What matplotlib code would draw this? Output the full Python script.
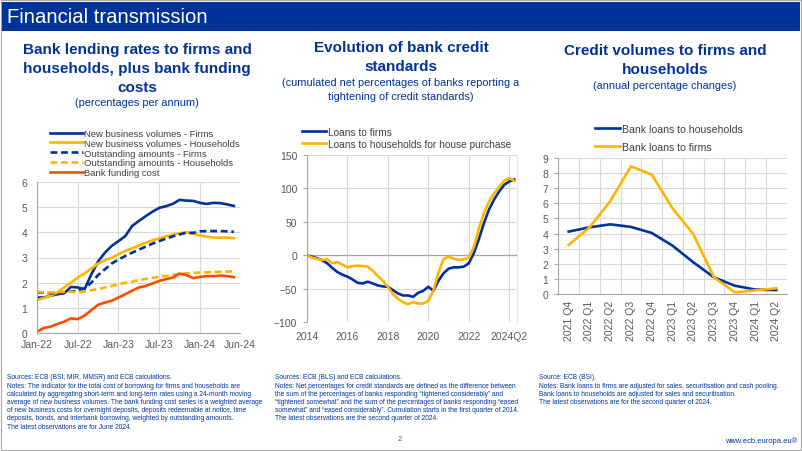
import matplotlib
matplotlib.use("Agg")
import matplotlib.pyplot as plt
from matplotlib.patches import Rectangle
import numpy as np

plt.rcParams['font.family'] = ['Liberation Sans', 'DejaVu Sans']

BLUE = '#003299'
YELLOW = '#FFB400'
ORANGE = '#FF4B00'
GRID = '#D9D9D9'
TICKC = '#595959'
LEGC = '#404040'

# ---------------- Chart 1 data (monthly, Jan-22 .. Jun-24) ----------------
c1_ticks = [0, 6, 12, 18, 24, 29.9]
c1_ticklabels = ['Jan-22', 'Jul-22', 'Jan-23', 'Jul-23', 'Jan-24', 'Jun-24']
nbv_firms = [1.41, 1.41, 1.48, 1.54, 1.58, 1.83, 1.81, 1.74, 2.33, 2.84, 3.19, 3.46,
             3.65, 3.85, 4.25, 4.45, 4.64, 4.82, 4.97, 5.04, 5.13, 5.29, 5.26, 5.25,
             5.17, 5.13, 5.17, 5.16, 5.11, 5.05]
nbv_hh = [1.31, 1.39, 1.48, 1.61, 1.81, 2.00, 2.20, 2.37, 2.56, 2.76, 2.89, 2.99,
          3.13, 3.26, 3.36, 3.48, 3.58, 3.68, 3.76, 3.84, 3.91, 3.96, 4.01, 3.94,
          3.88, 3.83, 3.79, 3.79, 3.79, 3.77]
out_firms = [1.61, 1.60, 1.58, 1.58, 1.61, 1.65, 1.68, 1.77, 2.00, 2.30, 2.53, 2.76,
             2.92, 3.06, 3.19, 3.31, 3.43, 3.55, 3.65, 3.75, 3.84, 3.92, 3.98, 3.98,
             4.04, 4.05, 4.05, 4.05, 4.04, 4.02]
out_hh = [1.64, 1.61, 1.61, 1.62, 1.64, 1.64, 1.62, 1.65, 1.70, 1.75, 1.81, 1.87,
          1.94, 1.99, 2.04, 2.10, 2.15, 2.19, 2.23, 2.27, 2.31, 2.35, 2.37, 2.39,
          2.40, 2.41, 2.43, 2.43, 2.44, 2.45]
funding = [0.05, 0.20, 0.25, 0.36, 0.45, 0.58, 0.55, 0.69, 0.91, 1.12, 1.21, 1.28,
           1.41, 1.54, 1.68, 1.81, 1.87, 1.97, 2.07, 2.14, 2.20, 2.36, 2.30, 2.18,
           2.23, 2.26, 2.26, 2.28, 2.26, 2.22]

# ---------------- Chart 2 data (quarterly, 2014Q1 .. 2024Q2) ----------------
c2_ticks = [0, 8, 16, 24, 32, 40]
c2_ticklabels = ['2014', '2016', '2018', '2020', '2022', '2024Q2']
bls_firms = [0, -2, -4.5, -7.5, -12, -19, -25, -29, -32, -36, -41, -42,
             -39.5, -42, -45, -46.5, -47, -52, -57, -60, -60, -62, -56, -53,
             -47, -53, -38, -27, -20, -18, -18, -17, -12, 3, 24, 48,
             68, 83, 95, 105, 110, 113]
bls_hh = [0, -3.5, -5.5, -7, -6, -12, -10, -14, -18, -16, -15.5, -16,
          -17, -23, -31, -38, -47, -58, -65, -70, -73, -70, -72, -72,
          -68, -53, -26, -6, -2, -5, -7, -6, -4, 12, 40, 63,
          80, 92, 102, 111, 115, 111]

# ---------------- Chart 3 data (quarterly) ----------------
c3_labels = ['2021 Q4', '2022 Q1', '2022 Q2', '2022 Q3', '2022 Q4', '2023 Q1',
             '2023 Q2', '2023 Q3', '2023 Q4', '2024 Q1', '2024 Q2']
loans_hh = [4.13, 4.41, 4.61, 4.44, 4.04, 3.20, 2.10, 1.10, 0.55, 0.29, 0.26]
loans_firms = [3.25, 4.40, 6.14, 8.45, 7.90, 5.67, 3.97, 1.10, 0.11, 0.24, 0.38]

W, H = 802, 452
fig = plt.figure(figsize=(W / 100, H / 100), dpi=100)


def fx(x):
    return x / W


def fy(y):
    return 1 - y / H


def axes_px(l, t, r, b):
    return fig.add_axes([fx(l), fy(b), (r - l) / W, (b - t) / H])


# frame and header
fig.patches.append(Rectangle((fx(1), fy(451)), (W - 2) / W, 450 / H, transform=fig.transFigure,
                             fill=False, edgecolor='#A6A6A6', linewidth=0.8))
fig.patches.append(Rectangle((fx(2), fy(32)), (W - 4) / W, 29 / H, transform=fig.transFigure,
                             facecolor=BLUE, edgecolor='none'))
fig.text(fx(7), fy(17.5), 'Financial transmission', color='white', fontsize=14.6,
         ha='left', va='center')


def title_lines(xc, lines, bold_n, ys, sub_size=7.9):
    for i, (ln, y) in enumerate(zip(lines, ys)):
        if i < bold_n:
            fig.text(fx(xc), fy(y), ln, ha='center', va='center', color=BLUE,
                     fontsize=11, fontweight='bold')
        else:
            fig.text(fx(xc), fy(y), ln, ha='center', va='center', color=BLUE,
                     fontsize=sub_size)


title_lines(137, ['Bank lending rates to firms and', 'households, plus bank funding', 'costs',
                  '(percentages per annum)'], 3, [50, 69.5, 88, 103])
title_lines(401, ['Evolution of bank credit', 'standards',
                  '(cumulated net percentages of banks reporting a',
                  'tightening of credit standards)'], 2, [48, 67, 83, 96.5])
title_lines(665, ['Credit volumes to firms and', 'households', '(annual percentage changes)'],
            2, [51, 70, 86])


def style_ax(ax):
    for s in ['top', 'right']:
        ax.spines[s].set_visible(False)
    for s in ['left', 'bottom']:
        ax.spines[s].set_color('#A6A6A6')
        ax.spines[s].set_linewidth(0.8)
    ax.tick_params(colors=TICKC, labelsize=7.5, length=0)
    ax.set_axisbelow(True)


# ---------------- Chart 1 ----------------
ax1 = axes_px(37, 183, 240, 334)
style_ax(ax1)
x1 = np.arange(len(nbv_firms))
lw = 1.9
dash = (0, (2.6, 1.4))
ax1.plot(x1, nbv_firms, color=BLUE, lw=lw, label='New business volumes - Firms')
ax1.plot(x1, nbv_hh, color=YELLOW, lw=lw, label='New business volumes - Households')
ax1.plot(x1, out_firms, color=BLUE, lw=lw, ls=dash, label='Outstanding amounts - Firms')
ax1.plot(x1, out_hh, color=YELLOW, lw=lw, ls=dash, label='Outstanding amounts - Households')
ax1.plot(x1, funding, color=ORANGE, lw=lw, label='Bank funding cost')
ax1.set_xlim(0, 29.9)
ax1.set_ylim(0, 6)
ax1.set_yticks(range(0, 7))
ax1.set_xticks(c1_ticks)
ax1.set_xticklabels(c1_ticklabels)
ax1.yaxis.grid(True, color=GRID, lw=0.8)
for t in c1_ticks[1:-1]:
    ax1.axvline(t, color=GRID, lw=0.8, zorder=0)
ax1.tick_params(axis='y', pad=7)
ax1.tick_params(axis='x', pad=4)
ax1.legend(loc='upper left', bbox_to_anchor=(fx(50), fy(130)), bbox_transform=fig.transFigure,
           frameon=False, fontsize=6.8, handlelength=3.5, handletextpad=0.15, labelspacing=0.08,
           borderpad=0, borderaxespad=0, labelcolor=LEGC)

# ---------------- Chart 2 ----------------
ax2 = axes_px(307, 155.7, 517.3, 323.3)
style_ax(ax2)
ax2.spines['bottom'].set_visible(False)
ax2.spines['right'].set_visible(True)
ax2.spines['right'].set_color('#E6E6E6')
x2 = np.arange(len(bls_firms))
ax2.plot(x2, bls_firms, color=BLUE, lw=lw, label='Loans to firms')
ax2.plot(x2, bls_hh, color=YELLOW, lw=lw, label='Loans to households for house purchase')
ax2.set_xlim(0, 41.6)
ax2.set_ylim(-100, 150)
ax2.set_yticks(range(-100, 151, 50))
ax2.set_xticks(c2_ticks)
ax2.set_xticklabels(c2_ticklabels)
ax2.grid(True, color=GRID, lw=0.8)
ax2.axhline(0, color='#A6A6A6', lw=0.9, zorder=1)
ax2.tick_params(axis='y', length=3, color='#A6A6A6', pad=4)
ax2.tick_params(axis='x', pad=6)
ax2.legend(loc='upper left', bbox_to_anchor=(fx(302), fy(128)), bbox_transform=fig.transFigure,
           frameon=False, fontsize=7.3, handlelength=2.4, handletextpad=0.15, labelspacing=0.15,
           borderpad=0, borderaxespad=0, labelcolor=LEGC)

# ---------------- Chart 3 ----------------
ax3 = axes_px(558.3, 159, 786.7, 295)
style_ax(ax3)
x3 = np.arange(len(c3_labels))
ax3.plot(x3, loans_hh, color=BLUE, lw=lw, label='Bank loans to households')
ax3.plot(x3, loans_firms, color=YELLOW, lw=lw, label='Bank loans to firms')
ax3.set_xlim(-0.5, 10.5)
ax3.set_ylim(0, 9)
ax3.set_yticks(range(0, 10))
ax3.set_xticks(x3)
ax3.set_xticklabels(c3_labels, rotation=90)
ax3.set_xticks(x3[:-1] + 0.5, minor=True)
ax3.tick_params(which='minor', length=0)
ax3.xaxis.grid(True, which='minor', color=GRID, lw=0.8)
ax3.yaxis.grid(True, color=GRID, lw=0.8)
ax3.tick_params(axis='y', length=3, color='#A6A6A6', pad=4)
ax3.tick_params(axis='x', pad=4)
ax3.legend(loc='upper left', bbox_to_anchor=(fx(595), fy(125)), bbox_transform=fig.transFigure,
           frameon=False, fontsize=7.6, handlelength=2.4, handletextpad=0.15, labelspacing=0.75,
           borderpad=0, borderaxespad=0, labelcolor=LEGC)

# ---------------- Footnotes ----------------
notes1 = ("Sources: ECB (BSI, MIR, MMSR) and ECB calculations.\n"
          "Notes: The indicator for the total cost of borrowing for firms and households are\n"
          "calculated by aggregating short-term and long-term rates using a 24-month moving\n"
          "average of new business volumes. The bank funding cost series is a weighted average\n"
          "of new business costs for overnight deposits, deposits redeemable at notice, time\n"
          "deposits, bonds, and interbank borrowing, weighted by outstanding amounts.\n"
          "The latest observations are for June 2024.")
notes2 = ("Sources: ECB (BLS) and ECB calculations.\n"
          "Notes: Net percentages for credit standards are defined as the difference between\n"
          "the sum of the percentages of banks responding \u201ctightened considerably\u201d and\n"
          "\u201ctightened somewhat\u201d and the sum of the percentages of banks responding \u201ceased\n"
          "somewhat\u201d and \u201ceased considerably\u201d. Cumulation starts in the first quarter of 2014.\n"
          "The latest observations are the second quarter of 2024.")
notes3 = ("Source: ECB (BSI).\n"
          "Notes: Bank loans to firms are adjusted for sales, securitisation and cash pooling.\n"
          "Bank loans to households are adjusted for sales and securitisation.\n"
          "The latest observations are for the second quarter of 2024.")
for xx, txt in [(7, notes1), (275, notes2), (539, notes3)]:
    fig.text(fx(xx), fy(374.5), txt, ha='left', va='top', color=BLUE, fontsize=4.8,
             linespacing=1.24)

fig.text(fx(400), fy(440), '2', ha='center', va='center', color='#595959', fontsize=5.5)
fig.text(fx(797), fy(441), 'www.ecb.europa.eu\u00ae', ha='right', va='center', color=BLUE,
         fontsize=5.4)

fig.savefig('out.png', dpi=100, facecolor='white')
